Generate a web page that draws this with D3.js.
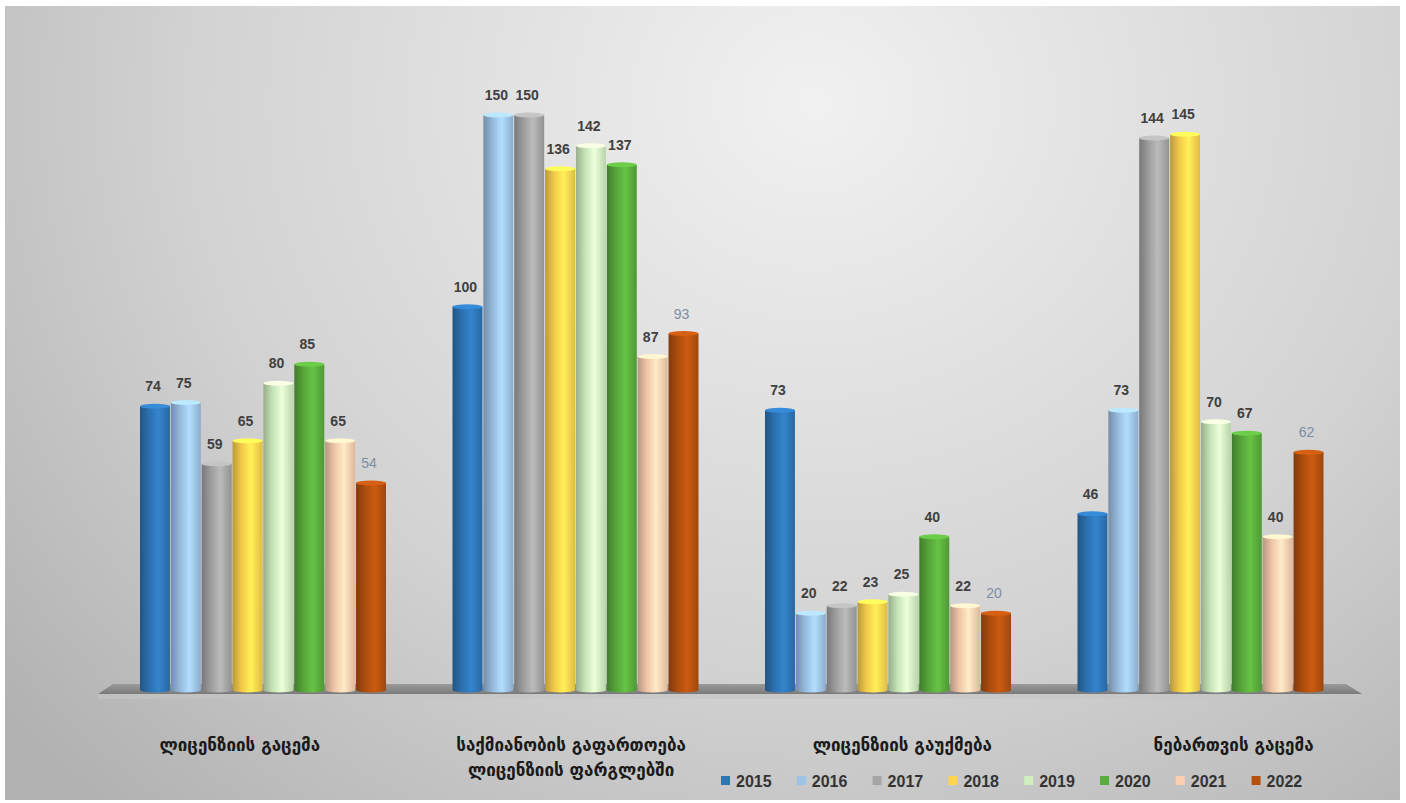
<!DOCTYPE html>
<html>
<head>
<meta charset="utf-8">
<script src="https://cdn.jsdelivr.net/npm/d3@7"></script>
<style>
  html, body { margin: 0; padding: 0; background: #fff; }
  svg { display: block; }
</style>
</head>
<body>
<svg id="chart" width="1406" height="803"></svg>
<script>
const categories = [
  ['ლიცენზიის გაცემა'],
  ['საქმიანობის გაფართოება', 'ლიცენზიის ფარგლებში'],
  ['ლიცენზიის გაუქმება'],
  ['ნებართვის გაცემა']
];
const years = ['2015', '2016', '2017', '2018', '2019', '2020', '2021', '2022'];
const colors = ['#2e75b6', '#9dc3e6', '#a5a5a5', '#ffd44d', '#d0efc0', '#5aac3c', '#fbcfb0', '#b4500f'];

const v2015 = [74, 100, 73, 46];
const v2016 = [75, 150, 20, 73];
const v2017 = [59, 150, 22, 144];
const v2018 = [65, 136, 23, 145];
const v2019 = [80, 142, 25, 70];
const v2020 = [85, 137, 40, 67];
const v2021 = [65, 87, 22, 40];
const v2022 = [54, 93, 20, 62];
const series = [v2015, v2016, v2017, v2018, v2019, v2020, v2021, v2022];

const svg = d3.select('#chart');
const defs = svg.append('defs');

// panel background
const bg = defs.append('radialGradient')
  .attr('id', 'bg')
  .attr('cx', '0.58').attr('cy', '0.12').attr('r', '0.75')
  .attr('gradientTransform', 'translate(0.58,0.12) scale(1,1.6) translate(-0.58,-0.12)');
bg.append('stop').attr('offset', '0%').attr('stop-color', '#f1f1f1');
bg.append('stop').attr('offset', '60%').attr('stop-color', '#d2d2d2');
bg.append('stop').attr('offset', '100%').attr('stop-color', '#b2b2b2');

svg.append('rect')
  .attr('x', 5).attr('y', 6)
  .attr('width', 1395).attr('height', 794)
  .attr('fill', 'url(#bg)');

// shaded gradient for each series, to give the bars a cylinder look
colors.forEach((c, i) => {
  const base = d3.color(c);
  const g = defs.append('linearGradient')
    .attr('id', 'bar' + i)
    .attr('x1', 0).attr('x2', 1).attr('y1', 0).attr('y2', 0);
  g.append('stop').attr('offset', '0%').attr('stop-color', base.darker(0.9));
  g.append('stop').attr('offset', '30%').attr('stop-color', base.darker(0.15));
  g.append('stop').attr('offset', '62%').attr('stop-color', base.brighter(0.35));
  g.append('stop').attr('offset', '100%').attr('stop-color', base.darker(0.35));
});

const floorGrad = defs.append('linearGradient')
  .attr('id', 'floor').attr('x1', 0).attr('x2', 0).attr('y1', 0).attr('y2', 1);
floorGrad.append('stop').attr('offset', '0%').attr('stop-color', '#9a9a9a');
floorGrad.append('stop').attr('offset', '100%').attr('stop-color', '#7a7a7a');

const baseY = 690;

const x0 = d3.scaleBand()
  .domain(d3.range(categories.length))
  .range([107, 1357]);

const x1 = d3.scaleBand()
  .domain(years)
  .range([33, 279])
  .paddingInner(0.03);

const y = d3.scaleLinear()
  .domain([0, 150])
  .range([baseY, 115]);

// floor
svg.append('polygon')
  .attr('points', [[113, 684], [1346, 684], [1362, 694], [98, 694]].join(' '))
  .attr('fill', 'url(#floor)');
svg.append('rect')
  .attr('x', 98).attr('y', 694).attr('width', 1264).attr('height', 5)
  .attr('fill', '#c4c4c4').attr('opacity', 0.6);

const rows = [];
categories.forEach((cat, ci) => {
  years.forEach((yr, si) => {
    rows.push({ ci, si, yr, value: series[si][ci] });
  });
});

const bars = svg.append('g').selectAll('g')
  .data(rows)
  .join('g')
  .attr('transform', d => `translate(${x0(d.ci) + x1(d.yr)},0)`);

bars.append('rect')
  .attr('x', 0)
  .attr('y', d => y(d.value))
  .attr('width', x1.bandwidth())
  .attr('height', d => baseY - y(d.value))
  .attr('fill', d => `url(#bar${d.si})`);

// elliptical cap
bars.append('ellipse')
  .attr('cx', x1.bandwidth() / 2)
  .attr('cy', d => y(d.value))
  .attr('rx', x1.bandwidth() / 2)
  .attr('ry', 2.5)
  .attr('fill', d => d3.color(colors[d.si]).brighter(0.5));

// rounded foot
bars.append('ellipse')
  .attr('cx', x1.bandwidth() / 2)
  .attr('cy', baseY)
  .attr('rx', x1.bandwidth() / 2)
  .attr('ry', 2.5)
  .attr('fill', d => `url(#bar${d.si})`);

bars.append('text')
  .attr('x', x1.bandwidth() / 2 - 2)
  .attr('y', d => y(d.value) - 15)
  .attr('text-anchor', 'middle')
  .attr('font-family', 'Liberation Sans, Arial, sans-serif')
  .attr('font-size', 14)
  .attr('font-weight', d => d.si === 7 ? 'normal' : 'bold')
  .attr('fill', d => d.si === 7 ? '#7d8ea3' : '#404040')
  .text(d => d.value);

// category labels sit on the front edge of the floor, spread slightly wider
const mid = 653;
const labelX = ci => mid + 1.06 * (x0(ci) + x0.bandwidth() / 2 - mid);

const catLabels = svg.append('g').selectAll('text')
  .data(categories)
  .join('text')
  .attr('x', (d, i) => labelX(i))
  .attr('y', 751)
  .attr('text-anchor', 'middle')
  .attr('font-family', 'DejaVu Sans, Noto Sans, sans-serif')
  .attr('font-size', 17)
  .attr('font-weight', 'bold')
  .attr('fill', '#1a1a1a');

catLabels.selectAll('tspan')
  .data(d => d)
  .join('tspan')
  .attr('x', function () { return this.parentNode.getAttribute('x'); })
  .attr('dy', (d, i) => i === 0 ? 0 : 25)
  .text(d => d);

// legend
const legend = svg.append('g')
  .attr('transform', 'translate(721,781)')
  .selectAll('g')
  .data(years)
  .join('g')
  .attr('transform', (d, i) => `translate(${i * 75.8},0)`);

legend.append('rect')
  .attr('x', 0).attr('y', -5)
  .attr('width', 9).attr('height', 9)
  .attr('fill', (d, i) => colors[i]);

legend.append('text')
  .attr('x', 15)
  .attr('y', 5.5)
  .attr('font-family', 'Liberation Sans, Arial, sans-serif')
  .attr('font-size', 16)
  .attr('font-weight', 'bold')
  .attr('fill', '#333')
  .text(d => d);
</script>
</body>
</html>
